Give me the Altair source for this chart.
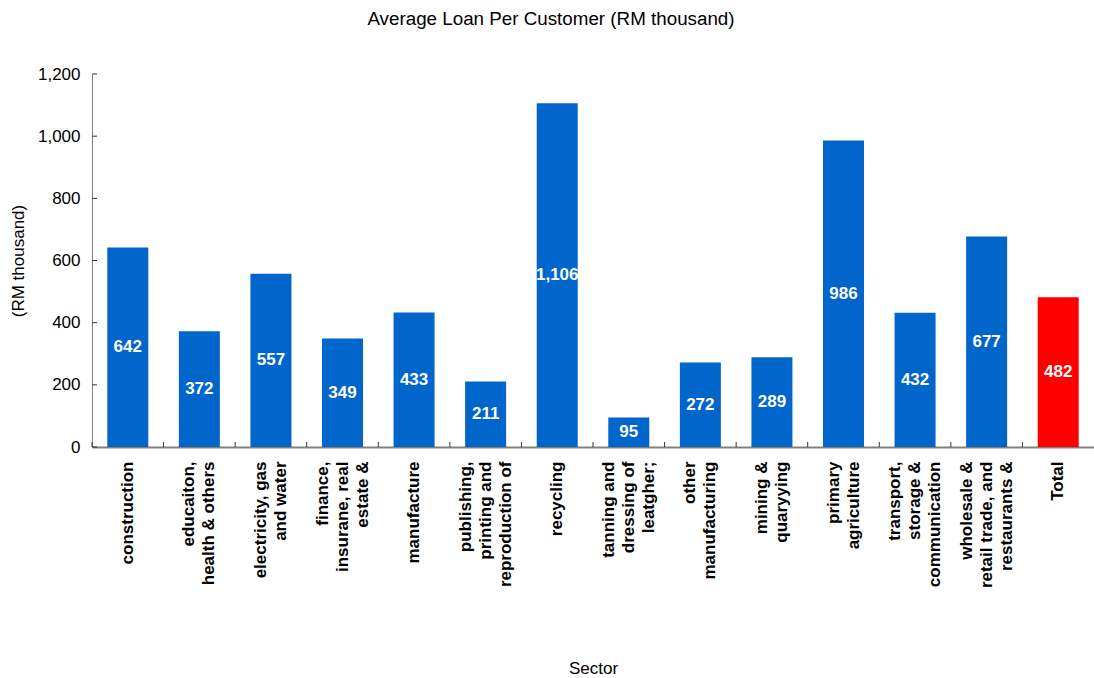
import altair as alt
import pandas as pd

sectors = [
    "construction",
    "educaiton,|health & others",
    "electricity, gas|and water",
    "finance,|insurane, real|estate &",
    "manufacture",
    "publishing,|printing and|reproduction of",
    "recycling",
    "tanning and|dressing of|leatgher;",
    "other|manufacturing",
    "mining &|quaryying",
    "primary|agriculture",
    "transport,|storage &|communication",
    "wholesale &|retail trade, and|restaurants &",
    "Total",
]
values = [642, 372, 557, 349, 433, 211, 1106, 95, 272, 289, 986, 432, 677, 482]
y_ticks = [0, 200, 400, 600, 800, 1000, 1200]

df = pd.DataFrame({"sector": sectors, "value": values})
tick_df = pd.DataFrame({"t": y_ticks})

FONT = "Liberation Sans"
W, H = 1002, 373
LINE_H = 20

label_offset = {
    "condition": [
        {"test": "length(split(datum.value, '|')) == 2", "value": -LINE_H / 2},
        {"test": "length(split(datum.value, '|')) == 3", "value": -LINE_H},
    ],
    "value": 0,
}

x_enc = alt.X(
    "sector:N",
    sort=None,
    scale=alt.Scale(paddingInner=0, paddingOuter=0),
    axis=alt.Axis(
        title="Sector",
        labelAngle=-90,
        labelAlign="right",
        labelBaseline="middle",
        labelExpr="split(datum.label, '|')",
        labelLineHeight=LINE_H,
        labelOffset=label_offset,
        labelFont=FONT,
        labelFontSize=17,
        labelFontWeight="bold",
        labelColor="black",
        labelPadding=14,
        labelLimit=300,
        ticks=False,
        domainColor="#808080",
        domainWidth=2,
        titleFont=FONT,
        titleFontSize=17,
        titleFontWeight="normal",
        titleColor="black",
        titleY=221,
        titleBaseline="middle",
    ),
)

y_scale = alt.Scale(domain=[0, 1200], nice=False)

bars = alt.Chart(df).mark_bar(size=41).encode(
    x=x_enc,
    y=alt.Y(
        "value:Q",
        scale=y_scale,
        axis=alt.Axis(
            title="(RM thousand)",
            values=y_ticks,
            format=",.0f",
            grid=False,
            ticks=False,
            labelPadding=12,
            labelFont=FONT,
            labelFontSize=17,
            labelColor="black",
            domainColor="#808080",
            domainWidth=1,
            titleFont=FONT,
            titleFontSize=17,
            titleFontWeight="normal",
            titleColor="black",
            titleX=-74,
            titleY=H / 2,
            titleAlign="center",
            titleBaseline="middle",
        ),
    ),
    color=alt.condition(
        alt.datum.sector == "Total", alt.value("#FF0000"), alt.value("#0066CC")
    ),
)

labels = (
    alt.Chart(df)
    .transform_calculate(mid="datum.value / 2")
    .mark_text(
        color="white", font=FONT, fontSize=17, fontWeight="bold", baseline="middle"
    )
    .encode(
        x=alt.X("sector:N", sort=None),
        y=alt.Y("mid:Q", scale=y_scale),
        text=alt.Text("value:Q", format=","),
    )
)

x_ticks = alt.Chart(df).mark_rule(color="#333333", strokeWidth=1).encode(
    x=alt.X("sector:N", sort=None, bandPosition=0),
    y=alt.value(H - 5),
    y2=alt.value(H),
)

y_tick_marks = alt.Chart(tick_df).mark_rule(color="#333333", strokeWidth=1).encode(
    y=alt.Y("t:Q", scale=y_scale),
    x=alt.value(0),
    x2=alt.value(5),
)

chart = (
    alt.layer(bars, labels, x_ticks, y_tick_marks)
    .properties(
        width=W,
        height=H,
        autosize="none",
        padding={"left": 92, "top": 74, "right": 0, "bottom": 231},
        title=alt.TitleParams(
            "Average Loan Per Customer (RM thousand)",
            font=FONT,
            fontSize=18.8,
            fontWeight="normal",
            color="black",
            anchor="middle",
            dx=-42,
            offset=36,
        ),
    )
    .configure_view(stroke=None)
)

chart.save("out.html", embed_options={"renderer": "svg", "actions": False})
